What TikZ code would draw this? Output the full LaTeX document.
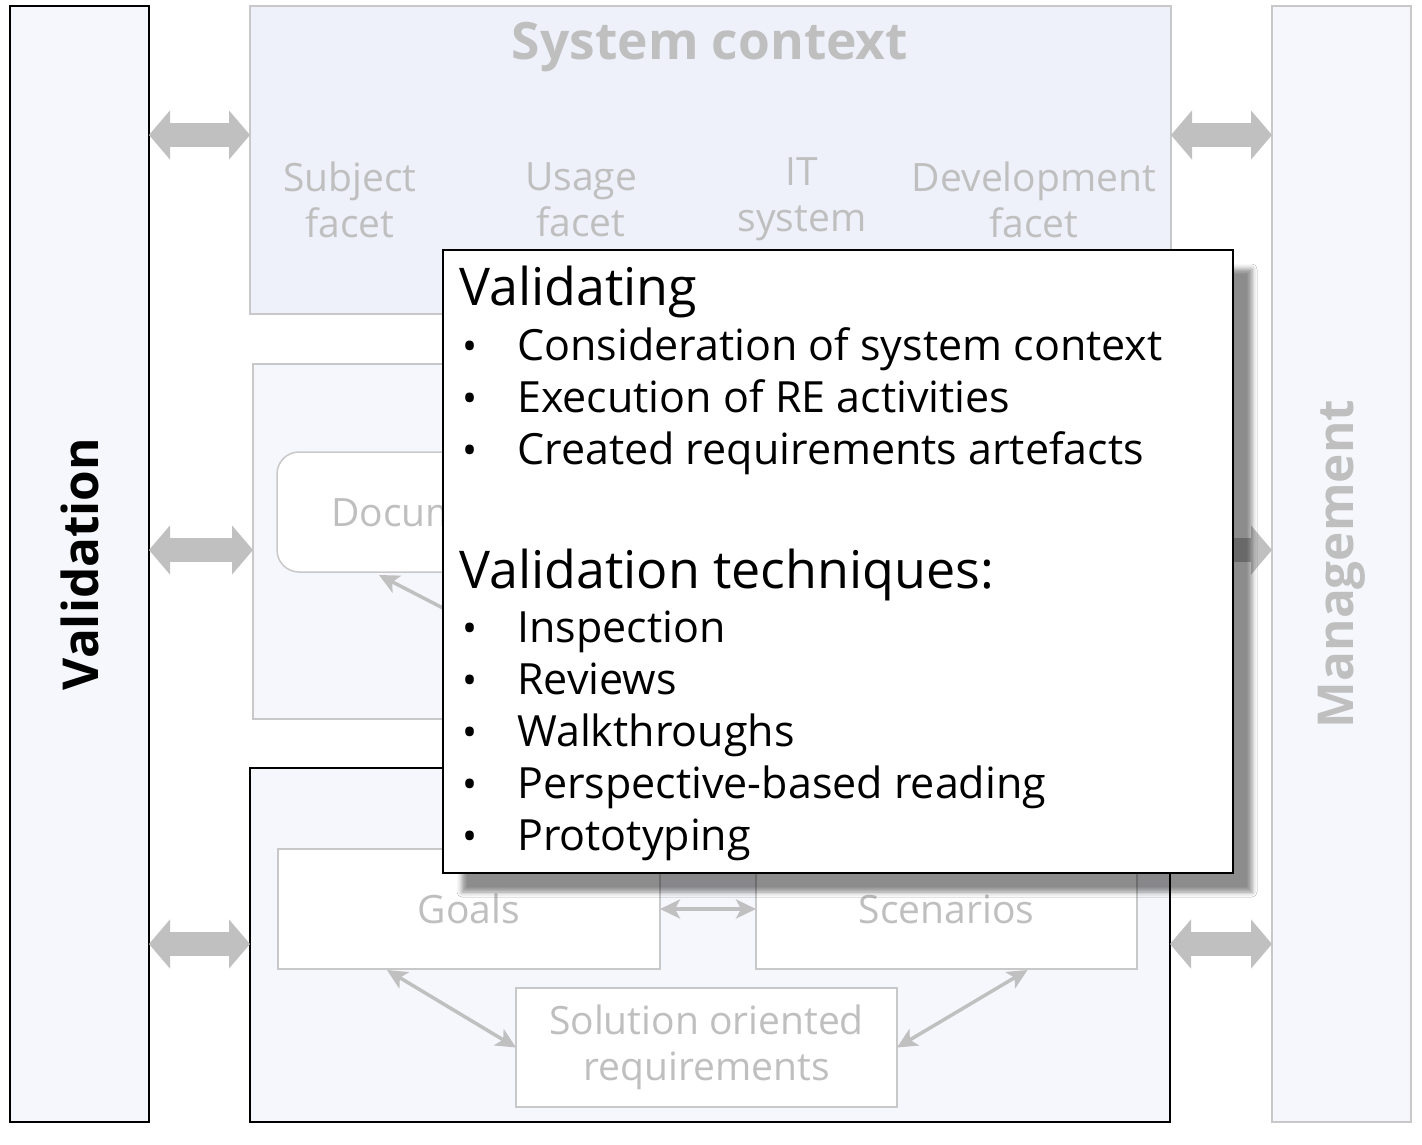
\documentclass[tikz,border=0pt]{standalone}
\usepackage{fontspec}
\setmainfont{Open Sans}
\usetikzlibrary{arrows.meta,shadows.blur,calc}
\definecolor{ctxbg}{HTML}{EEF1FA}
\definecolor{lightbg}{HTML}{F6F7FC}
\definecolor{greytxt}{HTML}{BFBFBF}
\definecolor{greyline}{HTML}{C8C8C8}
\definecolor{arrowgrey}{HTML}{C0C0C0}
\begin{document}
\begin{tikzpicture}[x=1pt,y=-1pt,
  box/.style={draw=greyline, line width=1.5pt, inner sep=0pt, outer sep=0pt, anchor=north west},
  lbl/.style={text=greytxt, font=\fontsize{39}{46}\selectfont, align=center, inner sep=0pt},
  bartxt/.style={rotate=90, font=\bfseries\fontsize{49.5}{56}\selectfont, inner sep=0pt},
  fatarrow/.style={draw=arrowgrey, line width=24pt, {Triangle[length=21pt,width=48pt]}-{Triangle[length=21pt,width=48pt]}},
  thinarrow/.style={draw=arrowgrey, line width=3.5pt, {Stealth[length=20pt,width=19pt,inset=5pt]}-{Stealth[length=20pt,width=19pt,inset=5pt]}},
  head/.style={anchor=base west, inner sep=0pt, font=\fontsize{52}{60}\selectfont},
  item/.style={anchor=base west, inner sep=0pt, font=\fontsize{43}{50}\selectfont},
  bul/.style={anchor=base, inner sep=0pt, font=\fontsize{40}{50}\selectfont}
]
\useasboundingbox (0,0) rectangle (1422,1144);
\fill[white] (0,0) rectangle (1422,1144);

% side bars
\node[box, draw=black, line width=2.5pt, fill=lightbg, minimum width=139pt, minimum height=1116pt] (valbar) at (10,6) {};
\node[bartxt] (valtxt) at (valbar.center) {Validation};
\node[box, fill=lightbg, minimum width=139pt, minimum height=1116pt] (mgmt) at (1272,6) {};
\node[bartxt, text=greytxt] (mgmttxt) at (mgmt.center) {Management};

% system context
\node[box, fill=ctxbg, minimum width=921pt, minimum height=308pt] (ctx) at (250,6) {};
\node[text=greytxt, font=\bfseries\fontsize{51.5}{58}\selectfont, inner sep=0pt] (ctxtitle) at (710,47) {System context};
\node[lbl] (subj) at (350,200) {Subject\\facet};
\node[lbl] (usage) at (581,200) {Usage\\facet};
\node[lbl] (its) at (802,199) {IT\\system};
\node[lbl] (dev) at (1034,200) {Development\\facet};

% middle box
\node[box, fill=lightbg, minimum width=918pt, minimum height=355pt] (mid) at (253,364) {};
\node[box, fill=white, rounded corners=22pt, minimum width=380pt, minimum height=120pt] (doc) at (277,452) {};
\node[lbl, anchor=west] (doctxt) at (331,512) {Documentation};
\coordinate (hidden) at (470,622);
\draw[draw=arrowgrey, line width=3.5pt, -{Stealth[length=20pt,width=19pt,inset=5pt]}] (hidden) -- (379,575);

% bottom box
\node[box, draw=black, fill=lightbg, minimum width=920pt, minimum height=354pt] (bot) at (250,768) {};
\node[box, fill=white, minimum width=382pt, minimum height=120pt] (goals) at (278,849) {};
\node[lbl] at (goals.center) {Goals};
\node[box, fill=white, minimum width=381pt, minimum height=120pt] (scen) at (756,849) {};
\node[lbl] at (scen.center) {Scenarios};
\node[box, fill=white, minimum width=381pt, minimum height=119pt] (sol) at (516,988) {};
\node[lbl] at (sol.center) {Solution oriented\\requirements};
\draw[thinarrow] (goals.east) -- (scen.west);
\draw[thinarrow] ($(goals.south)+(-82,1)$) -- (sol.west);
\draw[thinarrow] ($(scen.south)+(81,1)$) -- (sol.east);

% fat arrows
\coordinate (r1) at (0,135);
\coordinate (r2) at (0,550);
\coordinate (r3) at (0,944);
\draw[fatarrow] (valbar.east |- r1) -- (ctx.west |- r1);
\draw[fatarrow] (valbar.east |- r2) -- (mid.west |- r2);
\draw[fatarrow] (valbar.east |- r3) -- (bot.west |- r3);
\draw[fatarrow] (ctx.east |- r1) -- (mgmt.west |- r1);
\draw[fatarrow] (mid.east |- r2) -- (mgmt.west |- r2);
\draw[fatarrow] (bot.east |- r3) -- (mgmt.west |- r3);

% popup
\node[box, draw=black, line width=2pt, fill=white, minimum width=790pt, minimum height=623pt,
  blur shadow={shadow xshift=19pt, shadow yshift=-19pt, shadow blur radius=5pt, shadow opacity=45}] (popup) at (443,250) {};
\node[head] (h1) at (459,305) {Validating};
\node[bul] (b1) at (470,360) {•};
\node[item] (i1) at (517,360) {Consideration of system context};
\node[bul] (b2) at (470,412) {•};
\node[item] (i2) at (517,412) {Execution of RE activities};
\node[bul] (b3) at (470,464) {•};
\node[item] (i3) at (517,464) {Created requirements artefacts};
\node[head] (h2) at (459,588) {Validation techniques:};
\node[bul] (b4) at (470,642) {•};
\node[item] (i4) at (517,642) {Inspection};
\node[bul] (b5) at (470,694) {•};
\node[item] (i5) at (517,694) {Reviews};
\node[bul] (b6) at (470,746) {•};
\node[item] (i6) at (517,746) {Walkthroughs};
\node[bul] (b7) at (470,798) {•};
\node[item] (i7) at (517,798) {Perspective-based reading};
\node[bul] (b8) at (470,850) {•};
\node[item] (i8) at (517,850) {Prototyping};
\end{tikzpicture}
\end{document}
